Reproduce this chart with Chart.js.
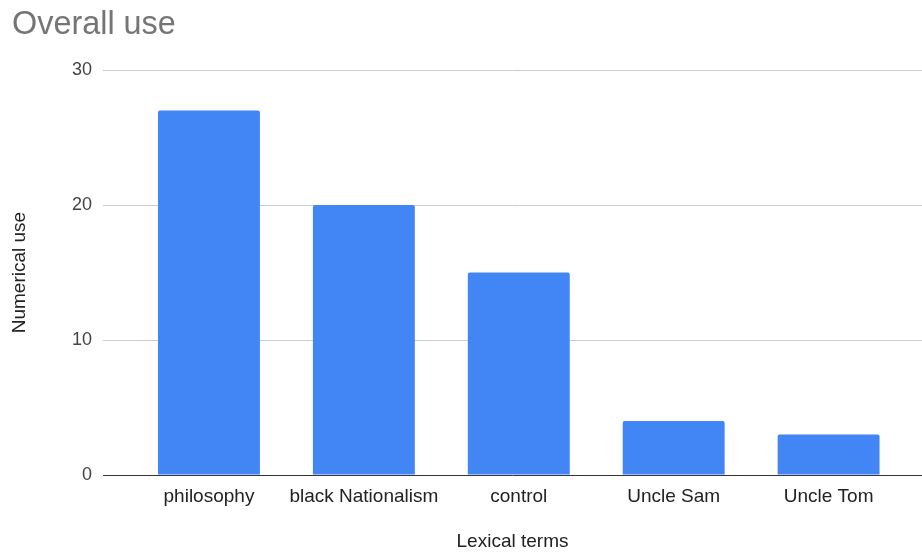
<!DOCTYPE html>
<html>
<head>
<meta charset="utf-8">
<script src="https://cdn.jsdelivr.net/npm/chart.js@4/dist/chart.umd.min.js"></script>
<style>
  html, body { margin: 0; padding: 0; background: #fff; }
  #wrap { width: 922px; height: 553px; position: relative; }
</style>
</head>
<body>
<div id="wrap"><canvas id="c"></canvas></div>
<script>
// Lexical terms and how often each one is used
const categories = ['philosophy', 'black Nationalism', 'control', 'Uncle Sam', 'Uncle Tom'];
const usage = [27, 20, 15, 4, 3];
const yTicks = [0, 10, 20, 30];

const FONT = "'Liberation Sans', Arial, sans-serif";

// Bars sit on a numeric index axis so the category band can be positioned freely
const points = categories.map((name, i) => ({ x: i, y: usage[i] }));

// Indent the chart title a little from the left edge
const titleIndent = {
  id: 'titleIndent',
  afterLayout(chart) {
    if (chart.titleBlock) chart.titleBlock.left += 12;
  }
};

new Chart(document.getElementById('c'), {
  type: 'bar',
  plugins: [titleIndent],
  data: {
    datasets: [{
      label: 'Numerical use',
      data: points,
      backgroundColor: '#4285F4',
      borderWidth: 0,
      borderRadius: 2,
      borderSkipped: 'start',
      categoryPercentage: 1,
      barPercentage: 0.658
    }]
  },
  options: {
    responsive: true,
    maintainAspectRatio: false,
    animation: false,
    layout: { padding: { left: 0, right: 0, top: 0, bottom: 0 } },
    plugins: {
      legend: { display: false },
      tooltip: { enabled: false },
      title: {
        display: true,
        text: 'Overall use',
        align: 'start',
        color: '#757575',
        font: { family: FONT, size: 32.4, weight: 'normal' },
        padding: { top: 6, bottom: 25.2 }
      }
    },
    scales: {
      x: {
        type: 'linear',
        min: -0.684,
        max: 4.603,
        offset: false,
        grid: { display: false, drawTicks: false },
        border: { display: false },
        afterBuildTicks(scale) {
          scale.ticks = categories.map((_, i) => ({ value: i }));
        },
        afterFit(scale) { scale.height = 78; },
        ticks: {
          autoSkip: false,
          maxRotation: 0,
          padding: 10,
          color: '#222',
          font: { family: FONT, size: 19 },
          callback: (v) => categories[v]
        },
        title: {
          display: true,
          text: 'Lexical terms',
          color: '#222',
          font: { family: FONT, size: 19 },
          padding: { top: 0, bottom: 0 }
        }
      },
      y: {
        min: 0,
        max: 30,
        afterBuildTicks(scale) {
          scale.ticks = yTicks.map(v => ({ value: v }));
        },
        afterFit(scale) { scale.width = 103; },
        grid: {
          drawTicks: false,
          lineWidth: 1,
          color: (ctx) => (ctx.tick && ctx.tick.value === 0 ? '#333333' : '#cccccc')
        },
        border: { display: false },
        ticks: {
          padding: 11,
          color: '#444',
          font: { family: FONT, size: 18 }
        },
        title: {
          display: true,
          text: 'Numerical use',
          color: '#222',
          font: { family: FONT, size: 19 },
          padding: { top: 8, bottom: 0 }
        }
      }
    }
  }
});
</script>
</body>
</html>
